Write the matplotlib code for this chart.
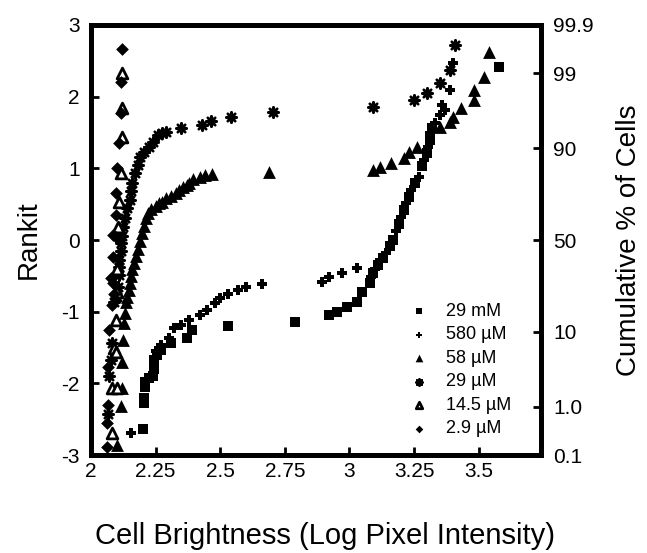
import matplotlib
matplotlib.use("Agg")
import matplotlib.pyplot as plt

plt.rcParams['font.family'] = ['Liberation Sans', 'DejaVu Sans']
plt.rcParams['axes.unicode_minus'] = False

# 29 mM (squares)
sq_x = [2.20, 2.205, 2.205, 2.21, 2.21, 2.225, 2.24, 2.245, 2.245, 2.255, 2.27, 2.31, 2.37, 2.39, 2.53,
        2.79, 2.92, 2.95, 2.99, 3.03, 3.05, 3.08, 3.09, 3.11, 3.13, 3.155, 3.17, 3.19, 3.21, 3.23,
        3.255, 3.28, 3.30, 3.31, 3.32, 3.58]
sq_y = [-2.64, -2.27, -2.20, -2.05, -1.98, -1.92, -1.89, -1.80, -1.67, -1.60, -1.53, -1.44, -1.37, -1.26, -1.20,
        -1.15, -1.05, -1.00, -0.93, -0.86, -0.72, -0.60, -0.46, -0.35, -0.25, -0.08, 0.00, 0.22, 0.42, 0.60,
        0.80, 1.03, 1.21, 1.40, 1.56, 2.41]

# 580 uM (plus)
pl_x = [2.155, 2.25, 2.27, 2.30, 2.32, 2.35, 2.38, 2.42, 2.45, 2.48, 2.50, 2.53, 2.57, 2.60, 2.66,
        2.895, 2.92, 2.97, 3.03, 3.085, 3.10, 3.12, 3.14, 3.16, 3.18, 3.20, 3.22, 3.24, 3.27, 3.29,
        3.305, 3.31, 3.33, 3.35, 3.37, 3.36, 3.39, 3.40]
pl_y = [-2.69, -1.55, -1.47, -1.37, -1.23, -1.18, -1.12, -1.05, -0.98, -0.88, -0.81, -0.76, -0.70, -0.66, -0.61,
        -0.59, -0.51, -0.46, -0.39, -0.52, -0.40, -0.28, -0.18, -0.04, 0.12, 0.32, 0.52, 0.70, 0.88, 1.12,
        1.30, 1.49, 1.63, 1.74, 1.81, 1.88, 2.09, 2.47]

# 58 uM (filled triangles)
t58_x = [2.10, 2.116, 2.12, 2.12, 2.124, 2.128, 2.13, 2.136, 2.14, 2.147, 2.15, 2.155, 2.16, 2.167, 2.175,
         2.18, 2.19, 2.198, 2.205, 2.213, 2.22, 2.233, 2.25, 2.264, 2.275, 2.29, 2.31, 2.33, 2.34, 2.355,
         2.37, 2.38, 2.395, 2.42, 2.44, 2.47, 2.69, 3.09, 3.12, 3.16, 3.21, 3.23, 3.26, 3.35, 3.39,
         3.40, 3.43, 3.48, 3.48, 3.52, 3.54]
t58_y = [-2.86, -2.32, -2.07, -1.70, -1.39, -1.16, -1.02, -0.86, -0.80, -0.70, -0.60, -0.50, -0.40, -0.32, -0.22,
         -0.12, -0.02, 0.10, 0.20, 0.31, 0.38, 0.43, 0.47, 0.51, 0.53, 0.58, 0.61, 0.66, 0.70, 0.74,
         0.77, 0.80, 0.85, 0.88, 0.90, 0.92, 0.95, 0.98, 1.02, 1.07, 1.14, 1.23, 1.30, 1.58, 1.65,
         1.72, 1.84, 1.95, 2.09, 2.27, 2.62]

# 29 uM (asterisks)
st_x = [2.066, 2.07, 2.077, 2.08, 2.09, 2.10, 2.105, 2.11, 2.11, 2.11, 2.115, 2.116, 2.12, 2.125, 2.13,
        2.14, 2.15, 2.155, 2.16, 2.17, 2.18, 2.19, 2.205, 2.225, 2.24, 2.26, 2.275, 2.29, 2.35, 2.43,
        2.465, 2.54, 2.705, 3.09, 3.25, 3.30, 3.35, 3.39, 3.41]
st_y = [-2.42, -1.90, -1.67, -1.44, -0.86, -0.79, -0.65, -0.49, -0.38, -0.28, -0.15, -0.04, 0.05, 0.18, 0.30,
        0.45, 0.56, 0.68, 0.80, 0.93, 1.05, 1.16, 1.23, 1.30, 1.37, 1.46, 1.49, 1.51, 1.56, 1.60,
        1.66, 1.72, 1.79, 1.85, 1.95, 2.05, 2.19, 2.37, 2.72]

# 14.5 uM (open triangles)
ot_x = [2.08, 2.08, 2.10, 2.09, 2.097, 2.097, 2.10, 2.10, 2.105, 2.11, 2.116, 2.12, 2.12, 2.12]
ot_y = [-2.69, -2.07, -2.07, -1.50, -1.56, -1.12, -0.72, -0.40, 0.18, 0.53, 0.93, 1.44, 1.84, 2.33]

# 2.9 uM (diamonds)
dm_x = [2.06, 2.06, 2.066, 2.066, 2.07, 2.08, 2.09, 2.085, 2.077, 2.085, 2.085, 2.097, 2.097, 2.097,
        2.10, 2.11, 2.116, 2.116, 2.12]
dm_y = [-2.88, -2.55, -2.30, -1.77, -1.26, -0.91, -0.75, -0.60, -0.53, -0.24, 0.07, 0.04, 0.35, 0.66,
        1.00, 1.35, 1.77, 2.20, 2.66]

labels = ['29 mM', '580 µM', '58 µM', '29 µM', '14.5 µM', '2.9 µM']

fig = plt.figure(figsize=(6.47, 5.53), dpi=100)
ax = fig.add_axes([0.1407, 0.177, 0.695, 0.778])

ax.scatter(sq_x, sq_y, marker='s', s=60, c='black', linewidths=0, label=labels[0])
ax.scatter(pl_x, pl_y, marker='P', s=45, c='black', linewidths=0, label=labels[1])
ax.scatter(t58_x, t58_y, marker='^', s=85, c='black', linewidths=0, label=labels[2])
ax.scatter(st_x, st_y, marker=(8, 2, 0), s=55, c='black', linewidths=1.8, label=labels[3])
ax.scatter(ot_x, ot_y, marker='^', s=60, facecolors='white', edgecolors='black', linewidths=2.0, label=labels[4])
ax.scatter(dm_x, dm_y, marker='D', s=42, c='black', linewidths=0, label=labels[5])

ax.set_xlim(2, 3.74)
ax.set_ylim(-3, 3)
ax.set_xticks([2, 2.25, 2.5, 2.75, 3, 3.25, 3.5])
ax.set_xticklabels(['2', '2.25', '2.5', '2.75', '3', '3.25', '3.5'])
ax.set_yticks([-3, -2, -1, 0, 1, 2, 3])
ax.tick_params(direction='in', length=6, width=2, labelsize=15, pad=8)
ax.tick_params(axis='x', pad=5)
for sp in ax.spines.values():
    sp.set_linewidth(3.5)

ax.set_xlabel('Cell Brightness (Log Pixel Intensity)', fontsize=21, labelpad=30)
ax.xaxis.set_label_coords(0.52, -0.155)
ax.set_ylabel('Rankit', fontsize=20, labelpad=14)

ax2 = ax.twinx()
ax2.set_ylim(-3, 3)
ax2.set_yticks([3, 2.326, 1.2816, 0, -1.2816, -2.326, -3])
ax2.set_yticklabels(['99.9', '99', '90', '50', '10', '1.0', '0.1'])
ax2.tick_params(direction='in', length=6, width=2, labelsize=15, pad=9)
ax2.set_ylabel('Cumulative % of Cells', fontsize=20, labelpad=16)
for sp in ax2.spines.values():
    sp.set_linewidth(3.5)

ax.legend(loc='upper left', bbox_to_anchor=(0.67, 0.375), frameon=False, fontsize=13,
          handletextpad=0.5, labelspacing=0.36, markerscale=0.6, borderpad=0)

plt.savefig('out.png', dpi=100)
